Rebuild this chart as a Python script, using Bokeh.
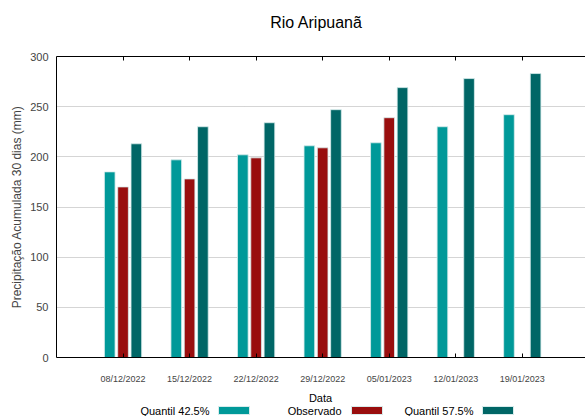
import numpy as np
from bokeh.plotting import figure
from bokeh.layouts import column
from bokeh.models import Range1d, FixedTicker, LinearAxis, CustomJSTickFormatter
from bokeh.core.properties import value
from bokeh.embed import file_html
from bokeh.resources import INLINE

title = "Rio Aripuanã"
x_label = "Data"
y_label = "Precipitação Acumulada 30 dias (mm)"
dates = ["08/12/2022", "15/12/2022", "22/12/2022", "29/12/2022", "05/01/2023", "12/01/2023", "19/01/2023"]
q425 = [185, 197, 202, 211, 214, 230, 242]
observado = [170, 178, 199, 209, 239, np.nan, np.nan]
q575 = [213, 230, 234, 247, 269, 278, 283]
legend_labels = ["Quantil 42.5%", "Observado", "Quantil 57.5%"]
y_ticks = [0, 50, 100, 150, 200, 250, 300]

C1 = "#009999"
C2 = "#990e0e"
C3 = "#006666"
colors = [C1, C2, C3]
FONT = "Liberation Sans"
W = 585
L = 56


def strip(h):
    f = figure(width=W, height=h, output_backend="svg", toolbar_location=None,
               x_range=Range1d(L, W), y_range=Range1d(0, h),
               min_border_left=L, min_border_right=0, min_border_top=0, min_border_bottom=0)
    f.axis.visible = False
    f.grid.visible = False
    f.outline_line_color = None
    return f


# title strip
TH = 46
ts = strip(TH)
ts.text(x=[316], y=[TH - 22], text=[title], text_align="center", text_baseline="middle",
        text_font_size="16px", text_font=value(FONT))

# main plot
H = 340
p = figure(width=W, height=H, output_backend="svg", toolbar_location=None,
           x_range=Range1d(0, 7.95), y_range=Range1d(0, 300),
           min_border_left=L, min_border_right=0, min_border_top=10, min_border_bottom=28)
p.outline_line_color = None

pos = list(range(1, len(dates) + 1))
bw = 0.16
lc = dict(line_color="#d8ecec", line_width=1, line_alpha=0.8)
p.vbar(x=[v - 0.2 for v in pos], top=q425, width=bw, fill_color=C1, **lc)
p.vbar(x=pos, top=observado, width=bw, fill_color=C2, **lc)
p.vbar(x=[v + 0.2 for v in pos], top=q575, width=bw, fill_color=C3, **lc)

xa = p.xaxis[0]
xa.ticker = FixedTicker(ticks=pos)
xa.major_label_overrides = {i + 1: d for i, d in enumerate(dates)}
xa.major_tick_in = 4
xa.major_tick_out = 0
xa.minor_tick_line_color = None
xa.axis_line_color = "black"
xa.major_label_text_font = FONT
xa.major_label_text_font_size = "9px"
xa.major_label_standoff = 16

top = LinearAxis(ticker=FixedTicker(ticks=pos), major_tick_in=4, major_tick_out=0,
                 minor_tick_line_color=None, axis_line_color="black",
                 formatter=CustomJSTickFormatter(code="return ''"))
top.major_label_standoff = 0
p.add_layout(top, "above")

ya = p.yaxis[0]
ya.ticker = FixedTicker(ticks=y_ticks)
ya.major_tick_in = 0
ya.major_tick_out = 0
ya.minor_tick_line_color = None
ya.axis_line_color = "black"
ya.major_label_text_font = FONT
ya.major_label_text_font_size = "11px"
ya.major_label_standoff = 8
ya.axis_label = y_label
ya.axis_label_text_font = FONT
ya.axis_label_text_font_size = "12px"
ya.axis_label_text_font_style = "normal"
ya.axis_label_standoff = 3

p.xgrid.grid_line_color = None
p.ygrid.ticker = FixedTicker(ticks=y_ticks[1:-1])
p.ygrid.grid_line_color = "#aaaaaa"
p.ygrid.grid_line_dash = "1 1"

# x label + legend strip
LH = 30
lg = strip(LH)
lg.text(x=[320], y=[LH - 11], text=[x_label], text_align="center",
        text_baseline="middle", text_font_size="11px", text_font=value(FONT))
text_right = [209, 341, 473]
sw_left = [218, 351, 482]
sw_w = 31
lg.text(x=text_right, y=[6] * 3, text=legend_labels, text_align="right",
        text_baseline="middle", text_font_size="11px", text_font=value(FONT))
lg.quad(left=sw_left, right=[l + sw_w for l in sw_left], bottom=[2] * 3, top=[10] * 3,
        fill_color=colors, line_color="#d8ecec")

open("out.html", "w").write(file_html(column(ts, p, lg, spacing=0), INLINE))
